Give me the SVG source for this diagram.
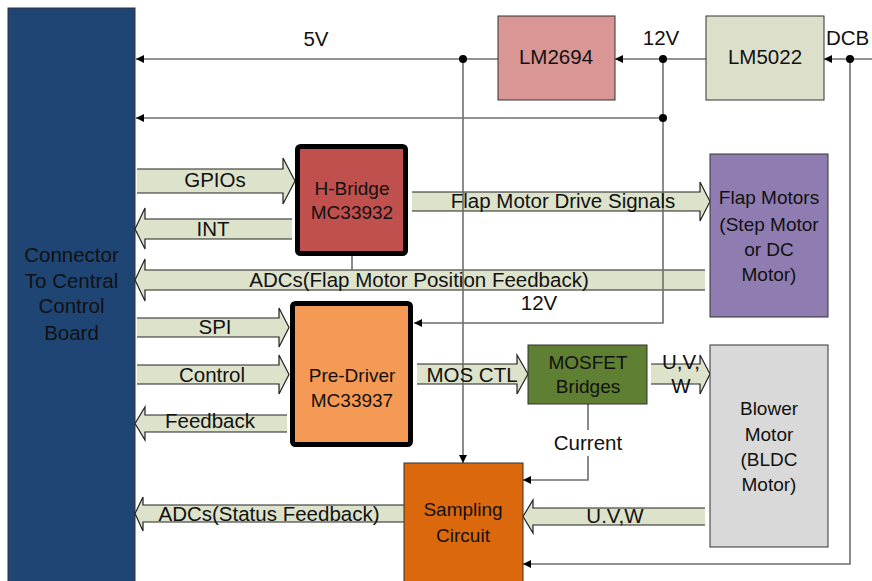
<svg xmlns="http://www.w3.org/2000/svg" width="872" height="581" viewBox="0 0 872 581">
<defs>
<marker id="ah" viewBox="0 0 10 10" refX="10" refY="5" markerWidth="8" markerHeight="8" markerUnits="userSpaceOnUse" orient="auto">
<path d="M0,0 L10,5 L0,10 z" fill="#000"/>
</marker>
<style>
.lbl{font-family:"Liberation Sans",Arial,sans-serif;font-size:20.5px;fill:#111;text-anchor:middle}
.box{font-family:"Liberation Sans",Arial,sans-serif;font-size:19px;fill:#111;text-anchor:middle}
.fat{fill:#DDE2CB;stroke:#222;stroke-width:1.2}
.wire{fill:none;stroke:#6e6e6e;stroke-width:1.6}
.wa{fill:none;stroke:#6e6e6e;stroke-width:1.6;marker-end:url(#ah)}
.dot{fill:#000}
</style>
</defs>
<rect width="872" height="581" fill="#fff"/>

<g id="connector-board">
<rect x="8" y="8" width="127" height="580" fill="#1F4574" stroke="#333" stroke-width="1"/>
<text class="lbl" x="71.5" y="262">Connector</text>
<text class="lbl" x="71.5" y="288">To Central</text>
<text class="lbl" x="71.5" y="313">Control</text>
<text class="lbl" x="71.5" y="340">Board</text>
</g>

<g id="fat-arrows">
<polyline class="fat" points="137,169 283,169 283,158 295,181 283,204 283,193 137,193"/>
<polyline class="fat" points="292,219 145,219 145,208 135,229 145,249 145,239 292,239"/>
<polyline class="fat" points="705,270 145,270 145,259 135,280 145,301 145,290 705,290"/>
<polyline class="fat" points="412,192 700,192 700,182 710,201.5 700,221 700,211 412,211"/>
<polyline class="fat" points="137,318 279,318 279,308 289,327.5 279,347 279,337 137,337"/>
<polyline class="fat" points="137,365 279,365 279,355 289,374.5 279,394 279,384 137,384"/>
<polyline class="fat" points="287,415 145,415 145,407 135,423.5 145,440 145,432 287,432"/>
<polyline class="fat" points="417,364 517,364 517,355 528,374 517,394 517,384 417,384"/>
<polyline class="fat" points="651,364 700,364 700,355 710,374 700,394 700,384 651,384"/>
<polyline class="fat" points="705,508 533,508 533,500 523,516.5 533,533 533,525 705,525"/>
<polyline class="fat" points="404,505 143,505 143,497 135,513.5 143,531 143,522 404,522"/>
</g>

<g id="connectors">
<line class="wa" x1="498" y1="59" x2="136" y2="59"/>
<line class="wa" x1="706" y1="59" x2="615" y2="59"/>
<line class="wa" x1="872" y1="59" x2="824" y2="59"/>
<line class="wa" x1="663" y1="118" x2="136" y2="118"/>
<line class="wire" x1="663" y1="59" x2="663" y2="118"/>
<polyline class="wa" points="663,118 663,323 414,323"/>
<line class="wa" x1="463" y1="59" x2="463" y2="463"/>
<polyline class="wa" points="850,59 850,564 523,564"/>
<line class="wire" x1="352" y1="256" x2="352" y2="270"/>
<polyline class="wa" points="588,404 588,480 523,480"/>
<circle class="dot" cx="463" cy="59" r="4"/>
<circle class="dot" cx="663" cy="59" r="4"/>
<circle class="dot" cx="663" cy="118" r="4"/>
<circle class="dot" cx="850" cy="59" r="4"/>
<rect x="552" y="430" width="72" height="26" fill="#fff"/>
<text class="lbl" x="588" y="450">Current</text>
</g>

<g id="arrow-labels">
<text class="lbl" x="316" y="46">5V</text>
<text class="lbl" x="661" y="45">12V</text>
<text class="lbl" x="826" y="45" style="text-anchor:start">DCB</text>
<text class="lbl" x="215" y="187">GPIOs</text>
<text class="lbl" x="213" y="236">INT</text>
<text class="lbl" x="419" y="287">ADCs(Flap Motor Position Feedback)</text>
<text class="lbl" x="563" y="208">Flap Motor Drive Signals</text>
<text class="lbl" x="539" y="310">12V</text>
<text class="lbl" x="215" y="334">SPI</text>
<text class="lbl" x="212" y="382">Control</text>
<text class="lbl" x="210" y="428">Feedback</text>
<text class="lbl" x="472" y="382">MOS CTL</text>
<text class="lbl" x="681" y="369">U,V,</text>
<text class="lbl" x="681" y="393">W</text>
<text class="lbl" x="615" y="523">U.V,W</text>
<text class="lbl" x="269" y="521">ADCs(Status Feedback)</text>
</g>

<g id="lm2694">
<rect x="498" y="16" width="117" height="84" fill="#D99694" stroke="#333" stroke-width="1"/>
<text class="lbl" x="556" y="64">LM2694</text>
</g>

<g id="lm5022">
<rect x="706" y="16" width="118" height="84" fill="#DCE0CA" stroke="#333" stroke-width="1"/>
<text class="lbl" x="765" y="64">LM5022</text>
</g>

<g id="h-bridge">
<rect x="297.5" y="146.5" width="108" height="107" rx="3" fill="#C0504D" stroke="#000" stroke-width="5"/>
<text class="box" x="352" y="195">H-Bridge</text>
<text class="box" x="352" y="219">MC33932</text>
</g>

<g id="flap-motors">
<rect x="710" y="154" width="118" height="163" fill="#8F7CB0" stroke="#333" stroke-width="1"/>
<text class="box" x="769" y="204">Flap Motors</text>
<text class="box" x="769" y="231">(Step Motor</text>
<text class="box" x="769" y="256">or DC</text>
<text class="box" x="769" y="281">Motor)</text>
</g>

<g id="pre-driver">
<rect x="292.5" y="303.5" width="118" height="141" rx="3" fill="#F59A55" stroke="#000" stroke-width="5"/>
<text class="box" x="352" y="382">Pre-Driver</text>
<text class="box" x="352" y="407">MC33937</text>
</g>

<g id="mosfet-bridges">
<rect x="528" y="345" width="119" height="59" fill="#5F7F32" stroke="#333" stroke-width="1"/>
<text class="box" x="588" y="369">MOSFET</text>
<text class="box" x="588" y="393">Bridges</text>
</g>

<g id="blower-motor">
<rect x="710" y="345" width="118" height="202" fill="#D9D9D9" stroke="#333" stroke-width="1"/>
<text class="box" x="769" y="415">Blower</text>
<text class="box" x="769" y="441">Motor</text>
<text class="box" x="769" y="466">(BLDC</text>
<text class="box" x="769" y="491">Motor)</text>
</g>

<g id="sampling-circuit">
<rect x="404" y="463" width="119" height="130" fill="#DB680D" stroke="#333" stroke-width="1"/>
<text class="box" x="463" y="516">Sampling</text>
<text class="box" x="463" y="542">Circuit</text>
</g>
</svg>
